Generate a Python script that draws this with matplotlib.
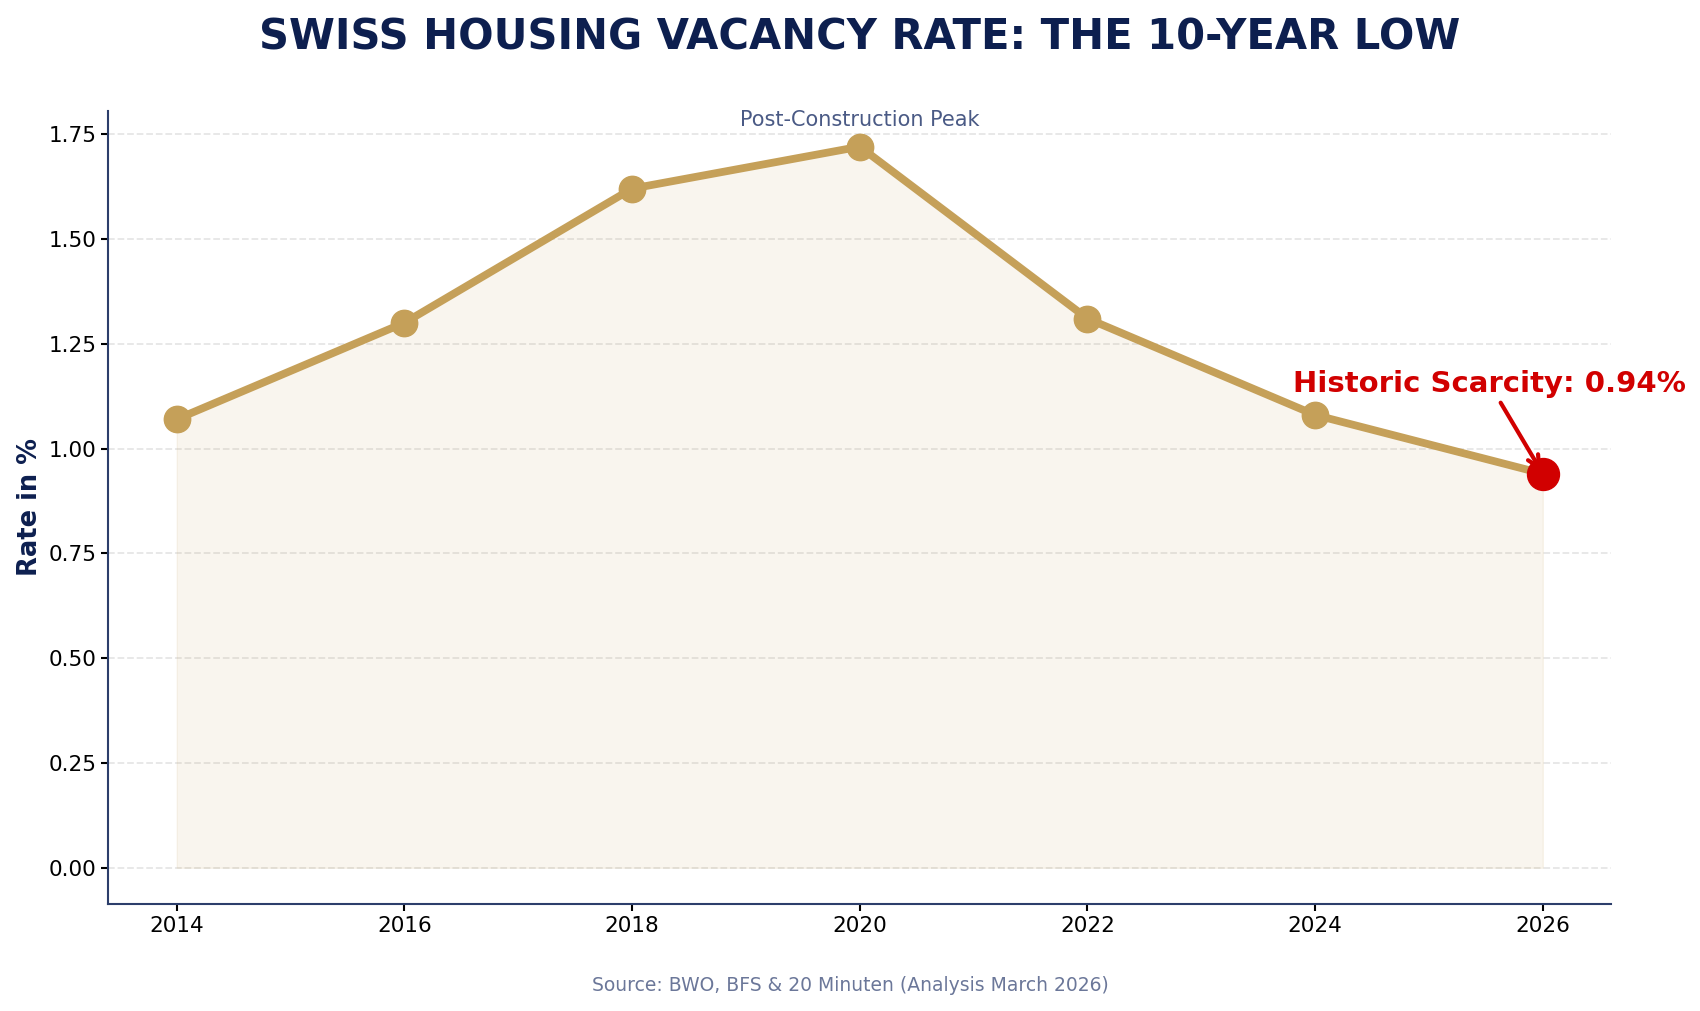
import matplotlib
matplotlib.use("Agg")
import numpy as np
from matplotlib import pyplot as plt

# data
years = [2014, 2016, 2018, 2020, 2022, 2024, 2026]
vacancy_rate = [1.07, 1.30, 1.62, 1.72, 1.31, 1.08, 0.94]

peak_label = "Post-Construction Peak"
low_label = "Historic Scarcity: 0.94%"
title = "SWISS HOUSING VACANCY RATE: THE 10-YEAR LOW"
source = "Source: BWO, BFS & 20 Minuten (Analysis March 2026)"

navy = "#0d1f4f"
spine_navy = "#2c3e6b"
gold = "#c5a059"
red = "#d10000"

fig = plt.figure(figsize=(17, 10.11), dpi=100)
ax = fig.add_axes([0.0638, 0.106, 0.8839, 0.7846])

ax.fill_between(years, vacancy_rate, 0, color=gold, alpha=0.1)
ax.plot(years, vacancy_rate, color=gold, lw=5.6, marker="o", markersize=19, zorder=3)

# last point highlighted
ax.plot(years[-1], vacancy_rate[-1], marker="o", color=red, markersize=23, zorder=4)

ax.annotate(low_label, xy=(years[-1], vacancy_rate[-1]),
            xytext=(2025.53, 1.155), ha="center", va="center",
            fontsize=21, fontweight="bold", color=red,
            arrowprops=dict(arrowstyle="->", color=red, lw=3))

peak_i = int(np.argmax(vacancy_rate))
ax.text(years[peak_i], vacancy_rate[peak_i] + 0.04, peak_label,
        ha="center", va="bottom", fontsize=15, color="#4a5a85")

ax.set_title(title, fontsize=30, fontweight="bold", color=navy, pad=44)
ax.set_ylabel("Rate in %", fontsize=18.5, fontweight="bold", color=navy)

ax.grid(axis="y", linestyle="--", color="#e6e6e6", lw=1.3)
ax.set_axisbelow(True)
for s in ["top", "right"]:
    ax.spines[s].set_visible(False)
for s in ["left", "bottom"]:
    ax.spines[s].set_color(spine_navy)
    ax.spines[s].set_linewidth(1.5)
ax.tick_params(labelsize=15.5, width=1.5, length=5)
ax.yaxis.set_major_formatter(matplotlib.ticker.FormatStrFormatter("%.2f"))

fig.text(0.5, 0.0257, source, ha="center", va="center",
         fontsize=13.5, color="#6b7799")

plt.savefig("out.png", dpi=100)
